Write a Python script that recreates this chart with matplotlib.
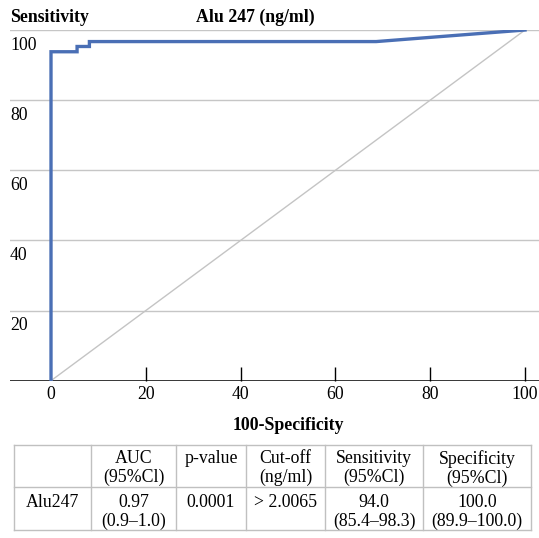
import matplotlib.pyplot as plt
from matplotlib.transforms import blended_transform_factory

plt.rcParams['font.family'] = ['Liberation Serif', 'DejaVu Serif']

# ROC curve points (100-Specificity, Sensitivity)
fpr = [0, 0, 5.5, 5.5, 8.1, 8.1, 68.6, 100]
tpr = [0, 93.8, 93.8, 95.3, 95.3, 96.7, 96.7, 100]

x_ticks = [20, 40, 60, 80, 100]
y_ticks = [20, 40, 60, 80, 100]

col_labels = ['', 'AUC\n(95%Cl)', 'p-value', 'Cut-off\n(ng/ml)',
              'Sensitivity\n(95%Cl)', 'Specificity\n(95%Cl)']
row_values = ['Alu247', '0.97\n(0.9–1.0)', '0.0001', '> 2.0065',
              '94.0\n(85.4–98.3)', '100.0\n(89.9–100.0)']

W, H = 539, 538
fig = plt.figure(figsize=(W / 100, H / 100), dpi=100)

# main ROC axes (pixel layout)
left, right, top, bottom = 10, 539, 30, 380.7
ax = fig.add_axes([left / W, 1 - bottom / H, (right - left) / W, (bottom - top) / H])
ax.set_xlim(-8.65, 102.95)
ax.set_ylim(0, 100)

for y in y_ticks:
    ax.axhline(y, color='#c6c6c6', lw=1, zorder=1)
ax.axhline(0, color='black', lw=1.1, zorder=2)

ax.plot([0, 100], [0, 100], color='#c4c4c4', lw=1, zorder=2)
ax.plot(fpr, tpr, color='#4a6fb5', lw=2.4, zorder=3, solid_joinstyle='miter')

for s in ax.spines.values():
    s.set_visible(False)
ax.set_yticks([])
ax.set_xticks([0] + x_ticks)
ax.set_xticklabels(['0'] + [str(v) for v in x_ticks], fontsize=12.8)
ax.tick_params(axis='x', direction='in', length=10, width=1, pad=4)
ax.xaxis.get_major_ticks()[0].tick1line.set_visible(False)

trans = blended_transform_factory(ax.transAxes, ax.transData)
for y in y_ticks:
    ax.text(0, y - 4.3, str(y), transform=trans, ha='left', va='center', fontsize=12.8)

fig.text(10 / W, 1 - 17 / H, 'Sensitivity', fontsize=12.8, fontweight='bold',
         ha='left', va='center')
fig.text(255 / W, 1 - 17 / H, 'Alu 247 (ng/ml)', fontsize=12.8, fontweight='bold',
         ha='center', va='center')
ax.text(50, 1 - 425 / H, '100-Specificity',
        transform=blended_transform_factory(ax.transData, fig.transFigure),
        fontsize=12.8, fontweight='bold', ha='center', va='center')

# table
tab = fig.add_axes([0, 0, 1, 1])
tab.set_xlim(0, W)
tab.set_ylim(H, 0)
tab.axis('off')
col_edges = [14, 91, 176, 246, 325, 423, 531]
row_edges = [445, 487, 530]
for x in col_edges:
    tab.plot([x, x], [row_edges[0], row_edges[-1]], color='#c0c0c0', lw=1)
for y in row_edges:
    tab.plot([col_edges[0], col_edges[-1]], [y, y], color='#c0c0c0', lw=1)

row_pad = [5, 7]
for r, cells in enumerate([col_labels, row_values]):
    for c, txt in enumerate(cells):
        if c == 0:
            xpos, ha = col_edges[0] + 12, 'left'
        else:
            xpos, ha = (col_edges[c] + col_edges[c + 1]) / 2, 'center'
        tab.text(xpos, row_edges[r] + row_pad[r], txt, ha=ha, va='top', fontsize=12.8,
                 linespacing=1.12, multialignment='center')

fig.savefig('out.png', dpi=100)
